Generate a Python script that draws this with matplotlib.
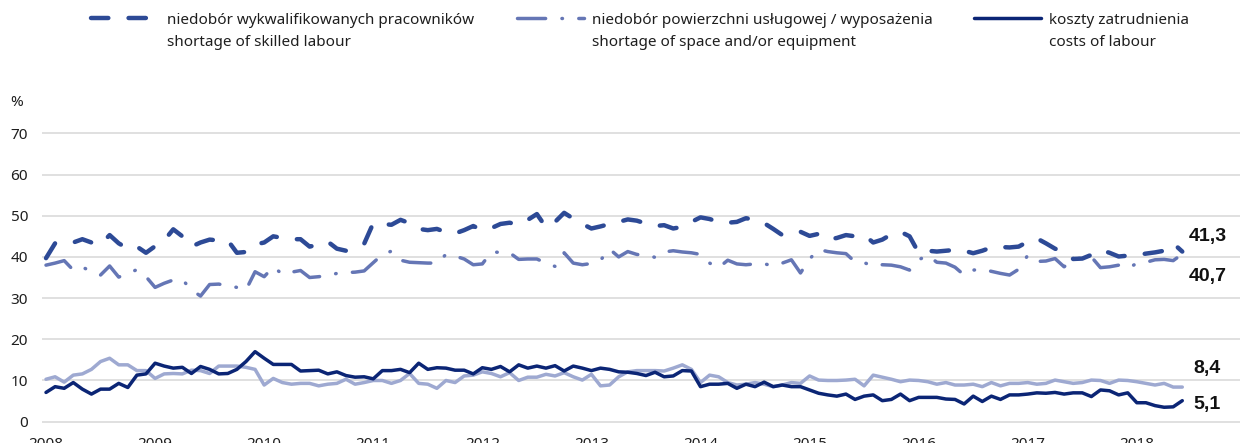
import numpy as np
import matplotlib
matplotlib.use("Agg")
import matplotlib.pyplot as plt
from matplotlib.lines import Line2D

plt.rcParams['font.family'] = ['Noto Sans', 'DejaVu Sans']

# monthly survey shares, Jan 2008 - Jun 2018 (%)
years = [2008, 2009, 2010, 2011, 2012, 2013, 2014, 2015, 2016, 2017, 2018]

skilled = [39.7, 43.3, 43.8, 43.5, 44.3, 43.5, 43.0, 45.3, 43.3, 42.0,
           42.5, 41.0, 42.6, 44.0, 46.7, 45.0, 42.5, 43.5, 44.2, 44.0,
           44.0, 41.0, 41.2, 43.0, 43.5, 45.0, 44.6, 44.3, 44.3, 42.5,
           43.0, 43.7, 42.0, 41.5, 42.2, 43.2, 48.2, 48.0, 47.8, 49.0,
           48.2, 46.8, 46.5, 46.8, 46.0, 45.7, 46.5, 47.5, 46.5, 47.0,
           48.0, 48.3, 47.8, 49.0, 50.4, 47.2, 48.5, 50.7, 49.3, 48.0,
           46.9, 47.4, 48.0, 48.5, 49.1, 48.8, 48.1, 47.5, 47.7, 46.9,
           47.3, 48.5, 49.6, 49.2, 48.5, 48.3, 48.5, 49.4, 49.0, 48.2,
           46.8, 45.3, 45.5, 46.1, 45.1, 45.6, 44.2, 44.6, 45.3, 45.0,
           45.3, 43.5, 44.2, 45.5, 46.1, 45.0, 41.0, 41.5, 41.3, 41.5,
           41.7, 41.5, 40.9, 41.5, 42.3, 42.4, 42.3, 42.5, 43.7, 44.5,
           43.3, 42.0, 41.2, 39.5, 39.6, 40.5, 41.7, 41.0, 40.1, 40.3,
           40.5, 40.8, 41.1, 41.5, 43.3, 41.3]

space = [38.0, 38.5, 39.1, 36.8, 37.5, 36.5, 35.6, 37.8, 35.1, 36.0,
         36.9, 35.2, 32.6, 33.6, 34.4, 34.5, 32.0, 30.5, 33.3, 33.4,
         33.0, 32.6, 32.0, 36.4, 35.2, 37.6, 35.8, 36.3, 36.7, 35.0,
         35.2, 35.5, 36.0, 36.2, 36.3, 36.6, 38.6, 40.6, 41.4, 39.2,
         38.7, 38.6, 38.5, 38.5, 40.6, 40.2, 39.5, 38.1, 38.3, 41.2,
         41.1, 41.0, 39.4, 39.5, 39.5, 38.5, 37.7, 41.0, 38.5, 38.1,
         38.4, 39.2, 41.9, 40.0, 41.3, 40.6, 40.4, 39.9, 41.2, 41.5,
         41.2, 41.0, 40.6, 38.5, 37.4, 39.2, 38.3, 38.1, 38.3, 38.3,
         37.9, 38.5, 39.3, 36.1, 39.5, 41.8, 41.3, 41.0, 40.8, 38.8,
         38.6, 37.8, 38.1, 38.0, 37.6, 36.8, 39.3, 40.4, 38.7, 38.5,
         37.5, 35.6, 36.8, 37.0, 36.5, 36.0, 35.6, 37.0, 40.4, 38.9,
         39.0, 39.6, 37.6, 39.3, 39.8, 40.0, 37.4, 37.6, 38.0, 37.3,
         38.4, 38.7, 39.3, 39.4, 39.1, 40.7]

costs = [7.1, 8.5, 8.1, 9.5, 7.9, 6.7, 7.9, 7.9, 9.3, 8.3,
         11.3, 11.6, 14.2, 13.5, 13.0, 13.2, 11.7, 13.4, 12.7, 11.6,
         11.7, 12.7, 14.6, 17.0, 15.4, 13.9, 13.9, 13.9, 12.3, 12.4,
         12.5, 11.6, 12.1, 11.2, 10.8, 10.9, 10.4, 12.4, 12.4, 12.7,
         11.9, 14.2, 12.7, 13.1, 13.0, 12.5, 12.5, 11.6, 13.1, 12.7,
         13.4, 12.1, 13.8, 13.0, 13.5, 13.0, 13.6, 12.3, 13.5, 13.0,
         12.4, 13.0, 12.7, 12.1, 12.0, 11.7, 11.2, 12.0, 10.9, 11.1,
         12.4, 12.3, 8.5, 9.1, 9.1, 9.3, 8.1, 9.1, 8.5, 9.6,
         8.5, 8.9, 8.5, 8.5, 7.7, 6.9, 6.5, 6.2, 6.7, 5.4,
         6.2, 6.5, 5.1, 5.4, 6.7, 5.1, 5.9, 5.9, 5.9, 5.5,
         5.4, 4.3, 6.2, 4.9, 6.2, 5.4, 6.5, 6.5, 6.7, 7.0,
         6.9, 7.1, 6.7, 7.0, 7.0, 6.1, 7.7, 7.5, 6.5, 7.0,
         4.6, 4.6, 3.9, 3.5, 3.6, 5.1]

other = [10.3, 10.9, 9.6, 11.3, 11.6, 12.7, 14.6, 15.4, 13.8, 13.8,
         12.4, 12.4, 10.5, 11.6, 11.7, 11.6, 12.5, 12.4, 11.7, 13.5,
         13.5, 13.5, 13.2, 12.7, 8.9, 10.5, 9.5, 9.1, 9.3, 9.3,
         8.7, 9.1, 9.3, 10.3, 9.1, 9.5, 10.0, 10.0, 9.3, 10.0,
         11.7, 9.3, 9.1, 8.1, 10.0, 9.5, 11.1, 11.3, 12.1, 11.7,
         10.9, 11.9, 10.0, 10.8, 10.8, 11.5, 11.1, 11.9, 10.9, 10.1,
         11.5, 8.7, 8.9, 10.9, 12.1, 12.4, 12.4, 12.4, 12.3, 13.0,
         13.8, 12.7, 9.5, 11.3, 10.9, 9.5, 8.9, 9.1, 9.5, 9.1,
         8.5, 8.9, 9.5, 9.3, 11.1, 10.1, 10.0, 10.0, 10.1, 10.3,
         8.7, 11.3, 10.8, 10.3, 9.7, 10.1, 10.0, 9.7, 9.1, 9.5,
         8.9, 8.9, 9.1, 8.5, 9.5, 8.7, 9.3, 9.3, 9.5, 9.1,
         9.3, 10.1, 9.7, 9.3, 9.5, 10.1, 10.0, 9.3, 10.1, 10.0,
         9.7, 9.3, 8.9, 9.3, 8.4, 8.4]

labels = [
    ("niedobór wykwalifikowanych pracowników", "shortage of skilled labour"),
    ("niedobór powierzchni usługowej / wyposażenia", "shortage of space and/or equipment"),
    ("koszty zatrudnienia", "costs of labour"),
]

c_skilled = '#2D4A96'
c_space = '#6576B5'
c_costs = '#0B2575'
c_other = '#9EA9D1'

W, H = 1240, 443
fig = plt.figure(figsize=(W / 100, H / 100), dpi=100)
ax = fig.add_axes([42 / W, 1 - 425.8 / H, 1 - 42 / W, (425.8 - 125.1) / H])

x = np.arange(len(skilled))
ax.plot(x, other, color=c_other, lw=2.5, solid_joinstyle='round', solid_capstyle='round')
ax.plot(x, costs, color=c_costs, lw=2.5, solid_joinstyle='round', solid_capstyle='round')
ax.plot(x, space, color=c_space, lw=2.5, dashes=(8.1, 4.7, 0.15, 4.7),
        dash_capstyle='round', dash_joinstyle='round')
ax.plot(x, skilled, color=c_skilled, lw=3.2, dashes=(3.9, 4.55),
        dash_capstyle='round', dash_joinstyle='round')

ax.set_xlim(-0.44, 131.35)
ax.set_ylim(-1, 72)
ax.set_yticks(range(0, 80, 10))
ax.set_xticks([12 * i for i in range(len(years))])
ax.set_xticklabels([str(y) for y in years])
ax.yaxis.grid(True, color='#DADADA', lw=1.2)
ax.set_axisbelow(True)
for s in ax.spines.values():
    s.set_visible(False)
ax.tick_params(axis='both', length=0, labelsize=11, labelcolor='#1E1E1E')
ax.tick_params(axis='y', pad=10)
ax.tick_params(axis='x', pad=8)

fig.text(10 / W, 1 - 103 / H, '%', fontsize=11, color='#1E1E1E', va='center', ha='left')

# end-of-series values
last = len(skilled) - 1
ends = [(skilled, 6, 15), (space, 6, -22), (other, 11, 19), (costs, 11, -4)]
for series, dx, dy in ends:
    ax.annotate(f"{series[last]:.1f}".replace('.', ','), (last, series[last]),
                xytext=(dx, dy), textcoords='offset pixels', ha='left', va='center',
                fontsize=14, fontweight='bold', family=['Liberation Sans', 'DejaVu Sans'],
                color='#111111', annotation_clip=False)

# legend row
styles = [
    dict(color=c_skilled, lw=3.2, dashes=(3.9, 4.55), dash_capstyle='round'),
    dict(color=c_space, lw=2.5, dashes=(8.1, 4.7, 0.15, 4.7), dash_capstyle='round'),
    dict(color=c_costs, lw=2.5, solid_capstyle='round'),
]
handle_x = [89, 515, 972]
text_x = [167, 592, 1049]
y1, y2 = 18, 40
for (l1, l2), st, hx, tx in zip(labels, styles, handle_x, text_x):
    fig.add_artist(Line2D([(hx + 2) / W, (hx + 69) / W], [1 - y1 / H, 1 - y1 / H],
                          transform=fig.transFigure, **st))
    fig.text(tx / W, 1 - y1 / H, l1, fontsize=11, color='#1E1E1E', va='center_baseline', ha='left')
    fig.text(tx / W, 1 - y2 / H, l2, fontsize=11, color='#1E1E1E', va='center_baseline', ha='left')

fig.savefig('out.png', dpi=100)
